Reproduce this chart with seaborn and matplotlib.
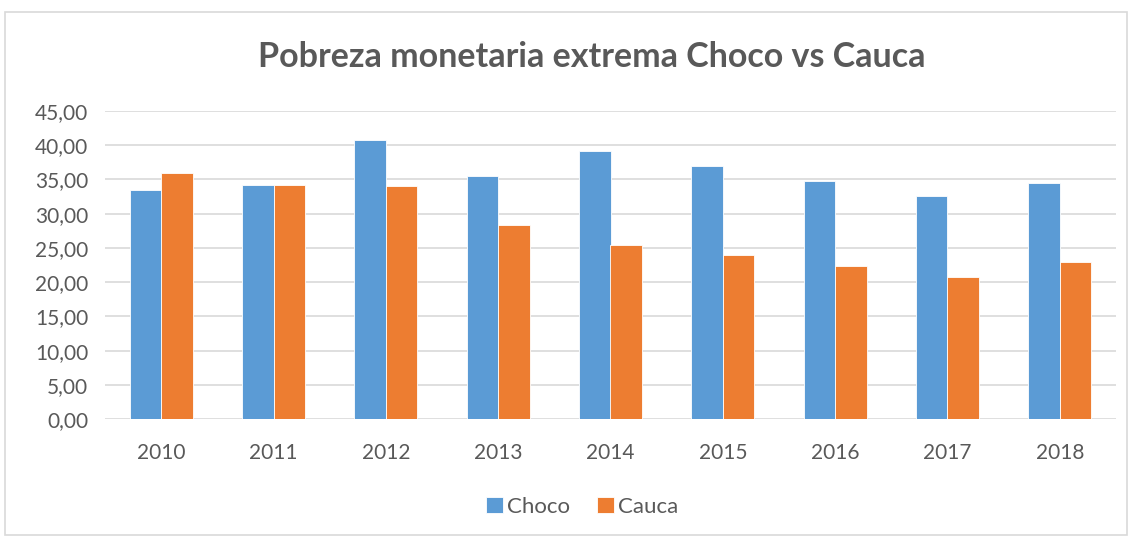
import matplotlib
matplotlib.use("Agg")
import matplotlib.pyplot as plt
import matplotlib.ticker as tkr
from matplotlib.patches import Rectangle
import pandas as pd
import seaborn as sns

years = ["2010", "2011", "2012", "2013", "2014", "2015", "2016", "2017", "2018"]
choco = [33.5, 34.2, 40.7, 35.5, 39.1, 37.0, 34.7, 32.6, 34.5]
cauca = [35.9, 34.2, 34.0, 28.4, 25.5, 24.0, 22.3, 20.7, 22.9]
series_names = ["Choco", "Cauca"]
colors = ["#5B9BD5", "#ED7D31"]
text_color = "#595959"

sns.set_style("white")
plt.rcParams['font.family'] = ['Lato', 'DejaVu Sans']

df = pd.DataFrame({"Año": years * 2,
                   "Valor": choco + cauca,
                   "Serie": [series_names[0]] * len(years) + [series_names[1]] * len(years)})

fig = plt.figure(figsize=(11.3, 5.36), dpi=100)
ax = fig.add_axes([105 / 1130, 0.218, 1011 / 1130, 0.575])

sns.barplot(data=df, x="Año", y="Valor", hue="Serie", palette=colors,
            width=0.56, gap=0, ax=ax, errorbar=None, saturation=1,
            edgecolor="white", linewidth=0.6)

ax.set_ylim(0, 45)
ax.set_yticks(range(0, 46, 5))
ax.yaxis.set_major_formatter(tkr.FuncFormatter(lambda y, p: "{:.2f}".format(y).replace(".", ",")))
ax.grid(axis="y", color="#D9D9D9", linewidth=1.2)
ax.set_axisbelow(True)
for s in ax.spines.values():
    s.set_visible(False)
ax.tick_params(axis="both", length=0, labelsize=15, colors=text_color, pad=12)
ax.tick_params(axis="x", pad=17)
ax.set_xlabel("")
ax.set_ylabel("")

fig.text(0.524, 0.893, "Pobreza monetaria extrema Choco vs Cauca", ha="center", va="center",
         fontsize=24.5, fontweight="bold", color=text_color)

ax.legend(loc="center", bbox_to_anchor=(0.472, -0.285), ncol=2, frameon=False,
          fontsize=16, handlelength=0.75, handleheight=0.75, columnspacing=1.2,
          handletextpad=0.2, labelcolor=text_color)

fig.patches.append(Rectangle((5 / 1130, 1 / 536), 1122 / 1130, 523 / 536,
                             transform=fig.transFigure, fill=False,
                             edgecolor="#D9D9D9", linewidth=1.2))

fig.savefig("out.png", dpi=100)
